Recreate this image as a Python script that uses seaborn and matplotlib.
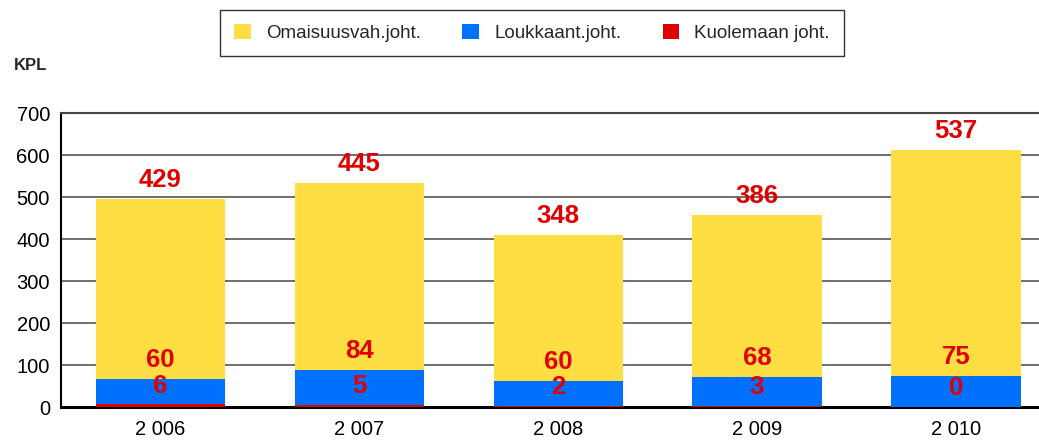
import pandas as pd
import seaborn as sns
import matplotlib.pyplot as plt
from matplotlib.patches import Patch

# data
years = ["2 006", "2 007", "2 008", "2 009", "2 010"]
omaisuus = [429, 445, 348, 386, 537]   # Omaisuusvah.joht.
loukkaant = [60, 84, 60, 68, 75]       # Loukkaant.joht.
kuolema = [6, 5, 2, 3, 0]              # Kuolemaan joht.

series_names = ["Omaisuusvah.joht.", "Loukkaant.joht.", "Kuolemaan joht."]
colors = ["#FFDE44", "#0070FF", "#E00000"]
label_color = "#E00000"

df = pd.DataFrame({"year": years, "omaisuus": omaisuus,
                   "loukkaant": loukkaant, "kuolema": kuolema})
df["top_red"] = df["kuolema"]
df["top_blue"] = df["kuolema"] + df["loukkaant"]
df["top_yellow"] = df["top_blue"] + df["omaisuus"]

sns.set_style("white")
plt.rcParams["font.family"] = ["Liberation Sans", "DejaVu Sans"]

fig = plt.figure(figsize=(10.39, 4.4), dpi=100)
ax = fig.add_axes([0.0587, 0.075, 0.957, 0.668])

# stacked bars: draw cumulative heights from the back to the front
for col, c in zip(["top_yellow", "top_blue", "top_red"], colors):
    sns.barplot(data=df, x="year", y=col, color=c, width=0.65,
                saturation=1, linewidth=0, ax=ax, zorder=3)

# value labels above each segment
for i, row in df.iterrows():
    for val, top in [(row["omaisuus"], row["top_yellow"]),
                     (row["loukkaant"], row["top_blue"]),
                     (row["kuolema"], row["top_red"])]:
        ax.annotate(str(val), (i, top), xytext=(0, 5), textcoords="offset points",
                    ha="center", va="bottom", color=label_color,
                    fontsize=18.5, fontweight="bold", zorder=5)

ax.set_xlim(-0.5, 4.5)
ax.set_ylim(0, 700)
ax.set_yticks(range(0, 701, 100))
ax.set_xlabel("")
ax.set_ylabel("")
ax.yaxis.grid(True, color="#555555", linewidth=1.2, zorder=0)
ax.set_axisbelow(True)
ax.tick_params(axis="both", length=0, labelsize=14.5, colors="black")
ax.tick_params(axis="y", pad=8)
ax.tick_params(axis="x", pad=9)

for side in ["left", "bottom", "top"]:
    ax.spines[side].set_visible(True)
ax.spines["right"].set_visible(False)
ax.spines["left"].set_color("black")
ax.spines["left"].set_linewidth(1.5)
ax.spines["bottom"].set_color("black")
ax.spines["bottom"].set_linewidth(2.2)
ax.spines["top"].set_color("#444444")
ax.spines["top"].set_linewidth(1.5)

fig.text(14 / 1039, 1 - 66 / 440, "KPL", fontsize=12, fontweight="bold",
         va="center", ha="left")

handles = [Patch(facecolor=c, edgecolor="none") for c in colors]
leg = fig.legend(handles, series_names, ncol=3, loc="center",
                 bbox_to_anchor=(532 / 1039, 1 - 33 / 440), fontsize=13.5,
                 frameon=True, fancybox=False, edgecolor="black",
                 handlelength=0.9, handleheight=0.9, columnspacing=2.2,
                 handletextpad=0.8, borderpad=0.75)
leg.get_frame().set_linewidth(1.0)

fig.savefig("out.png", dpi=100)
